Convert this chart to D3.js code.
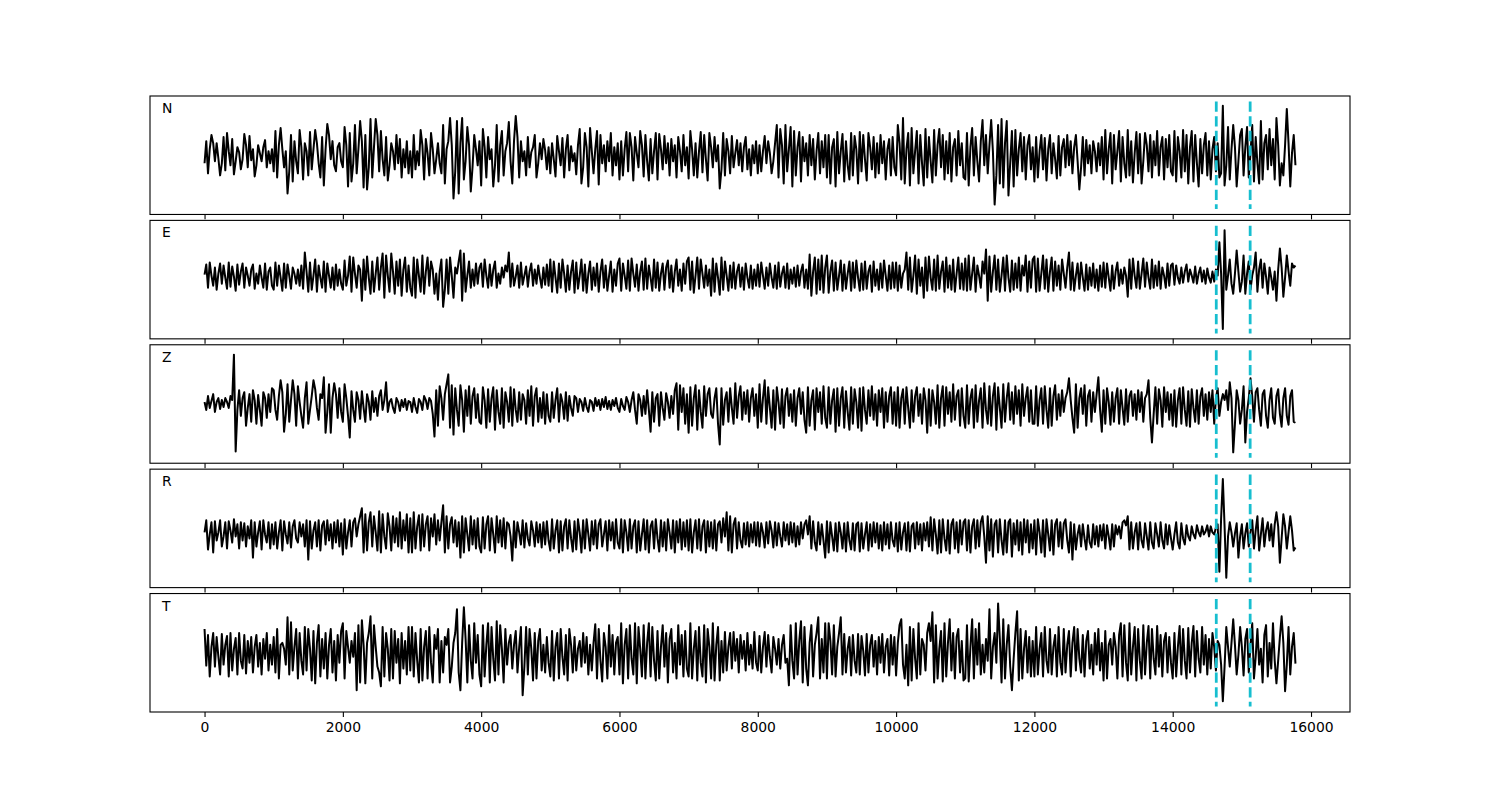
<!DOCTYPE html>
<html><head><meta charset="utf-8">
<script src="https://cdn.jsdelivr.net/npm/d3@7/dist/d3.min.js"></script>
<style>body{margin:0;background:#fff}svg{display:block}</style>
</head><body>
<svg id="chart" width="1500" height="800"></svg>
<script>
// ---- data ----
const channels = ["N", "E", "Z", "R", "T"];
const sampleStep = 25;               // samples between stored values
const pickTimes = [14630, 15120];    // dashed markers
const xTicks = [0, 2000, 4000, 6000, 8000, 10000, 12000, 14000, 16000];

const traceN = [
-8,14,-18,6,20,12,-6,12,-3,-20,-8,18,-15,22,4,-10,16,-19,-6,8,3,-14,-4,21,10,-12,19,-5,6,-21,-10,10,2,-6,8,15,-12,4,-8,6,
-16,24,-22,10,27,6,-12,4,-38,-16,20,-26,14,-6,-18,25,8,-24,12,4,-20,23,-14,6,25,12,-8,-22,18,-30,6,31,20,-4,14,-10,-16,8,12,-6,
-12,28,10,-31,22,-26,-8,30,-18,6,34,14,-32,20,-34,-12,36,-22,8,36,20,-16,24,-4,-20,18,-25,-10,12,4,-14,20,-8,16,-22,6,-12,14,-18,4,
-22,20,-14,4,-10,25,10,-24,16,2,-20,22,6,-18,-4,12,-8,-18,30,-28,6,14,37,10,-43,-16,34,-38,12,37,-24,-6,28,10,-36,-12,20,6,-10,14,
-30,26,8,-22,18,-4,6,-31,-10,30,-26,10,24,-20,4,12,33,-6,-28,14,39,18,-22,14,-6,4,-20,18,-12,3,8,20,-22,-8,12,-4,16,5,-14,8,
-18,12,-4,-21,19,4,-10,17,-22,6,20,-15,9,-6,2,-19,10,26,-28,-12,22,8,-31,27,4,-18,6,24,-29,20,-8,10,-16,14,-6,22,-20,8,-10,12,
-24,14,-20,6,23,-16,22,8,-25,18,2,-12,24,10,-21,20,-6,-25,16,-18,4,22,-24,21,6,-14,19,-8,12,-20,16,-6,10,-22,18,4,-16,20,-10,8,
-23,24,6,-20,12,-22,4,23,-17,20,-4,-25,22,8,-12,18,-6,10,-33,-14,22,-20,16,4,-18,19,-12,2,15,-10,12,-16,8,18,-14,6,-20,10,-8,14,
-18,10,-16,4,19,-8,14,2,-18,-6,12,30,-22,26,10,-28,30,-16,6,28,-31,24,-20,8,23,-26,18,-6,12,-20,20,-10,16,-24,4,22,-18,14,-12,20,
-22,20,-28,8,16,-31,23,-18,4,21,-26,14,-10,-24,22,-20,19,6,-28,23,-16,20,-4,-25,22,8,-14,18,-22,12,-18,20,-8,14,-24,6,16,-20,18,-12,
-20,30,12,-24,37,-28,6,22,-30,27,-18,4,24,-28,20,-8,-30,26,-22,18,-6,-27,25,-20,10,26,-12,20,-24,14,-18,22,-26,8,16,-20,24,-10,12,-22,
-24,22,-30,8,27,-20,18,-6,-26,14,35,-10,20,-18,10,35,4,-49,-20,30,-28,36,-32,12,34,-40,-8,24,-31,25,-20,6,22,-16,18,-24,10,20,-14,8,
-26,18,-22,4,20,-14,17,-25,6,20,-18,12,-4,-23,19,-20,8,16,-12,20,-10,14,-18,8,20,-6,-34,-12,18,-20,15,-8,10,-18,14,4,-16,12,-10,18,
-24,25,-18,6,22,-28,20,-14,4,24,-26,18,-8,-22,25,-20,14,-27,2,23,-18,21,-28,-6,22,10,-16,20,-22,14,-10,24,-20,8,18,-24,16,-12,20,-16,
-20,24,-26,18,4,-22,25,-16,20,-28,8,24,-26,20,-8,-31,16,-18,10,22,-20,14,-24,6,18,-16,12,-22,-18,49,-30,-10,28,-24,6,30,8,-31,-6,20,
26,-20,8,28,-22,2,30,-26,18,-8,-28,34,-24,12,20,-14,26,-10,16,-24,37,10,-30,-8,-20,10,46,12,-31,2,20,-10
];
const traceE = [
5,15,-8,17,4,-6,12,-10,6,16,-4,14,2,-9,17,-7,13,3,-11,15,-5,8,16,-8,12,4,-6,10,15,-9,6,-4,14,2,-8,16,-10,8,12,-6,
-10,17,-6,14,2,-11,16,-8,15,4,-9,12,6,-4,10,-6,14,-9,27,8,-12,17,-10,4,20,-12,14,2,-8,18,-12,16,4,-8,12,-10,15,-6,10,-4,
-10,19,-6,4,23,-12,22,6,-8,14,10,-21,20,-10,23,2,-14,18,-12,6,22,-10,12,26,-18,24,4,-12,26,8,-14,18,-6,20,-16,10,22,-12,14,-8,
-16,22,-18,20,4,-12,24,-14,8,22,-6,18,10,-14,6,-20,8,20,-27,-10,20,-14,22,4,-18,12,6,18,29,-21,26,-12,4,18,-8,10,-6,16,-4,12,
16,-7,20,4,-8,15,-6,10,18,-8,6,-4,12,2,14,8,27,-7,16,-6,3,14,-8,17,-5,4,13,-7,8,16,-6,10,-4,14,2,-8,12,-5,15,-6,
20,-12,18,2,-13,16,-8,20,6,-12,14,-10,8,19,-13,17,-9,4,20,-11,15,-13,6,18,-10,12,-6,16,-12,8,20,-8,14,-11,4,18,-12,10,-6,16,
21,-11,16,4,-9,19,-11,21,6,-7,15,-11,8,18,-10,21,-9,14,2,-11,20,-8,17,-11,6,16,-10,12,19,-8,14,-12,8,20,-6,10,-11,16,-4,18,
22,-10,18,-13,4,22,-9,20,6,-8,14,-6,10,-16,21,-12,16,2,-15,22,-10,18,4,-11,14,-8,17,-9,8,15,-7,12,-10,16,2,-8,14,-9,10,-6,
15,-7,17,4,-9,12,-6,16,2,-8,14,-9,17,-7,6,13,-8,16,-9,10,-4,12,-7,14,-6,8,15,-8,10,-9,25,-16,8,22,-14,20,-10,24,-13,12,
24,-13,8,19,-11,17,-10,4,19,-11,15,-9,6,18,-11,17,-8,19,2,-11,16,-10,18,-9,8,14,-12,18,-6,10,-10,16,-8,19,4,-11,14,-9,17,-8,
17,-11,14,-8,6,10,27,-10,22,-12,4,24,-14,20,-6,12,-18,22,-11,23,2,-10,20,-11,24,-9,8,18,-12,22,-8,14,-10,20,-12,6,22,-9,16,-10,
21,-11,24,-10,6,22,-12,14,4,-8,18,6,30,-21,23,-12,8,24,-10,20,-12,4,22,-11,24,2,-12,19,-10,16,-8,22,-11,14,4,24,-12,18,-8,20,
23,-12,21,-11,6,24,-9,20,-12,8,22,-11,18,-6,14,-10,20,6,-8,12,27,-10,17,-11,4,16,-9,17,2,-11,15,-10,12,-6,16,-8,10,-11,14,-7,
17,-8,16,2,-11,14,-9,8,17,-6,10,-4,12,4,-17,20,-9,21,4,-8,18,-9,6,21,-7,17,2,-9,20,-8,14,-6,18,-9,12,4,-8,16,-6,14,
16,-5,14,2,-4,12,-3,8,15,-2,10,4,-3,13,-4,6,12,-2,9,-4,11,2,-3,8,-2,10,4,37,6,-49,49,-10,4,20,-4,-14,6,29,8,-12,
-2,24,-14,6,18,-10,4,12,27,-12,10,20,-8,16,3,-14,12,2,-10,8,-21,10,31,12,-17,2,24,8,-6,16,12,14
];
const traceZ = [
2,-6,8,-4,3,10,-8,2,6,-5,4,-3,6,2,-4,8,4,50,-48,-6,14,-12,6,12,-22,-4,10,-18,14,4,-20,9,-6,-22,12,6,-14,10,-8,16,
14,-6,-16,8,24,12,-28,-10,20,-18,4,24,10,-22,18,2,-12,-24,6,22,-20,-6,8,24,15,-4,-16,10,6,27,-29,-8,20,-29,6,21,10,-14,16,-8,
-18,20,6,-12,-34,13,-6,-18,12,4,-15,13,-4,-18,10,2,-16,13,-8,6,-12,8,14,-6,4,22,-8,2,5,-4,-9,6,2,-7,4,-3,5,-6,3,2,
-8,6,-3,-9,5,2,-6,8,4,-5,6,3,-10,-33,14,-22,18,6,-16,10,20,30,-24,19,-31,16,-6,-22,19,4,-28,14,-12,18,-20,8,16,-14,10,-18,
-20,17,4,-24,15,-18,6,17,-26,14,-8,-20,16,-24,12,2,-18,17,-22,15,-6,-18,12,-16,10,4,-20,14,-12,18,-22,8,16,-18,6,-14,12,-20,10,-12,
-18,12,-14,4,16,-18,10,2,-15,12,-17,8,-4,-12,8,6,-8,5,2,-7,6,-3,-8,4,2,-7,6,-2,4,-6,5,-3,7,-5,3,-6,4,-2,6,-4,
-8,5,-2,-6,7,2,-8,4,12,-6,-20,10,4,-12,8,-10,14,-6,-28,12,-18,6,10,-22,12,-4,-16,11,2,-14,8,-10,14,21,-26,19,-8,16,-20,10,
-29,17,-22,6,19,-26,14,-8,-24,18,-12,10,16,-10,-14,6,16,-20,-41,16,-21,4,12,-18,16,-4,-20,21,-14,8,18,-16,12,-10,14,-18,6,16,-12,10,
-24,20,-18,6,24,-20,17,-4,-24,14,-26,17,2,-20,15,-24,8,16,-12,10,-18,14,-22,6,16,-10,12,-16,-29,17,-22,4,14,-26,16,-8,12,-20,18,-14,
-24,17,-20,4,15,-28,16,-22,6,17,-24,13,-8,-26,17,-20,15,2,-24,16,-27,17,-6,-20,14,-12,18,-16,10,-22,14,-8,16,-24,12,-18,8,17,-20,12,
-22,17,-24,6,15,-20,17,-4,-24,14,-18,8,17,-12,10,-20,16,4,-29,15,-22,14,2,-20,19,-24,6,18,-22,17,-10,12,-18,20,-16,8,14,-22,16,-12,
-24,19,-20,6,15,-24,19,-18,4,16,-24,21,-6,-20,18,-22,8,21,-26,17,-4,-24,20,-18,6,21,-16,12,-20,18,-10,14,-22,20,-12,6,17,-18,14,-20,
-20,18,-22,4,16,-20,18,-6,-24,16,-22,8,19,-16,10,-12,14,-8,6,12,26,4,-14,-29,20,-24,6,16,-10,19,-22,8,14,-18,12,-8,10,27,-6,-28,
14,-20,16,2,-21,12,-18,6,16,-20,14,-4,-21,15,-18,8,13,-12,10,-16,14,-8,12,-18,6,10,24,-14,-39,-10,17,-20,15,4,-23,17,-8,12,-16,10,
-22,14,-23,4,16,-20,17,-6,-22,13,-23,15,-4,-18,14,-20,8,16,-12,10,-16,12,-8,14,-20,6,16,-12,2,10,4,14,-6,22,6,-49,-20,14,4,-20,
-6,18,-39,-8,6,26,8,-18,12,16,-6,-22,10,14,-12,-24,4,16,-14,-20,8,15,-10,-23,6,16,-12,-21,8,14,-18,-19
];
const traceR = [
-4,8,-21,-6,6,-24,7,-12,-4,8,-18,-8,6,-20,7,-2,-14,9,-8,4,-20,6,-12,5,-18,2,-10,8,-29,6,-18,-4,7,-21,8,-6,-14,6,-20,4,
-16,6,-20,-4,8,-22,7,-6,-15,6,-19,2,8,-10,-14,6,-8,4,-18,8,-31,7,-20,-2,6,-18,8,-22,3,7,-16,8,-12,4,-20,6,-14,8,-18,5,
-26,9,-20,-4,8,-18,6,10,-8,4,12,20,-24,14,-22,6,16,-18,12,-4,-22,17,-24,14,-8,-20,15,2,-22,12,-14,10,-18,16,-20,8,-12,14,-24,10,
-24,16,-20,2,13,-22,14,-18,4,12,-22,10,-8,14,-16,8,-12,6,23,-24,12,-20,4,11,-14,8,-18,6,-29,12,-24,10,-6,-22,12,-16,8,-20,10,-18,
-24,11,-20,4,12,-22,10,-6,-24,12,-14,8,-18,10,-20,6,4,-8,-32,7,-19,6,-4,-16,8,-19,5,-10,-17,7,-2,-18,6,-14,4,-19,6,-16,7,-12,
-22,9,-20,-2,8,-24,7,-22,2,9,-20,8,-10,-23,7,-21,9,-4,-24,8,-20,9,-6,-22,7,-16,8,-20,4,9,-18,-6,7,-22,8,-12,6,-20,9,-14,
-20,9,-24,8,-4,-22,9,-20,2,8,-24,7,-22,-6,9,-21,8,-24,2,7,-20,9,-10,-23,8,-18,6,-22,9,-4,-20,8,-24,7,-14,9,-21,6,-18,8,
-22,9,-24,-4,8,-20,9,-22,2,8,-24,7,-18,6,-20,8,-22,4,7,-14,10,-8,16,-22,12,-24,4,10,-20,6,-12,-19,5,-16,6,-18,4,-14,6,-17,
6,-18,5,-4,-19,6,-15,7,-2,-19,6,-17,5,-8,-18,6,-12,4,-16,6,-14,5,-18,2,-16,6,-10,4,8,-6,12,-20,7,-14,-22,6,-16,4,-12,-29,
7,-24,6,-8,-22,5,-23,6,-4,-20,5,-23,6,-12,-21,5,-22,4,6,-23,5,-20,-6,6,-22,4,-18,6,-14,5,-20,3,-22,6,-16,4,-20,6,-12,-18,
5,-23,6,-21,-4,5,-22,6,-23,2,5,-20,6,-16,4,-22,5,-12,6,-18,11,-22,9,-6,-25,8,-24,9,-10,-22,8,-25,4,9,-20,6,-24,8,-16,6,
9,-22,8,-24,2,9,-20,8,-18,6,12,-8,-34,12,-22,9,-28,4,8,-24,9,-12,-26,8,-24,6,9,-28,5,-16,8,-22,6,-26,9,-14,8,-24,4,-20,
8,-26,9,-4,-24,8,-28,9,-6,-22,8,-26,4,9,-18,6,-20,5,9,-12,-24,6,-31,4,-21,-6,3,-18,4,-10,-21,3,-14,-19,4,-16,2,-18,3,-12,
4,-20,3,-8,-21,4,-18,3,-6,2,-10,6,8,3,12,-21,6,-20,-4,5,-21,6,-12,-19,5,-8,-21,6,-14,-20,5,-6,-18,6,-12,-20,4,-16,3,-10,
-21,-6,6,-14,-20,5,-10,-16,3,-8,-12,2,-6,-10,3,-4,-8,2,-6,-3,3,-8,2,-4,-6,1,4,-43,10,49,2,-49,-8,6,-4,-18,-5,5,-29,-8,
4,-20,-5,5,-18,-4,8,-20,-2,12,-22,-6,10,-18,-2,6,-12,4,-18,4,16,2,-34,-10,14,2,-20,-4,12,-2,-22,-19
];
const traceT = [
24,-13,18,-24,6,20,-14,16,-4,-22,19,-12,8,17,-24,20,-18,4,15,-22,20,-8,-16,18,-21,12,-10,16,-20,6,18,-14,10,-22,14,-6,20,-18,8,-12,
16,-20,24,-26,8,10,4,-12,36,-22,31,-18,6,24,-26,20,-8,-22,26,-18,24,4,-28,22,-31,10,28,-24,14,-16,20,-26,8,24,-20,12,-28,18,-10,22,
30,-26,22,6,-10,12,-4,20,-38,28,-30,33,8,-31,10,20,37,-26,28,6,-14,-20,-34,26,-24,20,4,-28,24,-26,22,-10,14,-31,20,-16,12,-22,26,-18,
26,-24,20,-8,-30,24,-28,6,22,-26,26,-10,-30,18,4,24,-30,12,-20,16,8,24,-30,-14,10,20,44,-20,-38,10,46,14,-30,28,-8,-26,30,-10,18,-22,
-34,28,-24,8,30,-30,26,-6,-28,32,-22,28,4,-30,24,-12,10,18,-16,8,22,-20,6,26,-43,-14,26,-22,24,4,-28,20,-26,12,24,-18,8,-20,16,-10,
-24,22,-28,6,20,-26,24,-4,-22,18,-28,24,8,-20,16,-18,4,12,-14,20,-10,16,-22,8,-18,10,29,-26,24,-8,-29,20,6,-26,28,-14,18,-22,10,16,
-22,30,-31,8,24,-26,28,-6,-22,30,-31,26,4,-24,28,-26,10,30,-24,26,-8,-28,22,-26,6,28,-14,20,-30,14,24,-20,10,-26,28,-12,18,-24,22,-16,
-24,30,-26,4,22,-28,26,-10,-24,28,-30,24,6,-26,30,-28,8,26,-28,12,-20,21,-18,6,20,-16,21,-8,14,-20,18,-6,12,-18,20,-12,8,-16,21,-10,
-18,17,-20,6,21,-14,18,-4,-20,16,4,-12,14,-16,8,18,-10,-6,-33,28,-8,-26,30,-22,12,32,-30,26,-16,-33,10,28,-24,8,20,36,-26,14,-20,30,
-26,30,12,-22,28,-24,6,20,36,-22,19,-20,4,16,-23,18,-8,-20,19,-22,17,2,-23,19,-20,8,18,-14,12,-22,16,-10,19,-20,6,14,-23,18,-12,16,
-23,10,28,34,-12,-26,8,-33,26,-28,24,-6,-26,30,-22,14,8,-18,20,30,12,41,-30,28,-26,4,22,-29,30,-24,10,34,-18,20,-26,16,24,-20,12,-28,
-26,28,-29,6,34,-26,24,-12,30,-22,8,-20,14,-8,44,-26,6,20,-10,50,14,-30,34,-26,8,28,-14,-38,-6,20,42,-28,24,-26,4,22,-20,16,-24,12,
-24,26,-22,4,20,-24,26,-8,-20,24,-22,6,18,-24,26,-10,-22,24,-20,8,22,-24,10,26,-18,24,-6,-20,18,-24,12,22,-16,8,-22,20,-12,24,-18,10,
-28,22,-26,8,14,-12,20,6,-26,18,30,-24,28,-10,-28,30,-22,6,26,-28,24,-8,-26,28,-22,10,27,-26,24,-6,-22,27,-14,18,-24,12,20,-20,16,-10,
-26,20,-24,6,27,-22,24,-8,-26,25,-20,10,27,-24,22,-6,-20,26,-12,18,-22,14,-16,20,6,-18,12,8,-12,-49,-14,26,6,-14,10,34,8,-22,-2,26,
6,-23,14,24,-20,8,30,-26,-4,24,-12,4,-30,18,28,-24,10,-16,30,-8,-31,-8,16,37,10,-39,-12,26,-22,6,20,-11
];
const traces = [traceN, traceE, traceZ, traceR, traceT];

// ---- layout ----
const svg = d3.select("#chart");
const figL = 150, figR = 1350, figT = 96, figB = 712;
const nP = channels.length, hspace = 0.05;
const ph = (figB - figT) / (nP + (nP - 1) * hspace);
const gap = ph * hspace;

const maxLen = d3.max(traces, t => t.length);
const tMax = (maxLen - 1) * sampleStep;
const pad = 0.05 * tMax;
const x = d3.scaleLinear().domain([-pad, tMax + pad]).range([figL, figR]);

const line = d3.line().x((d, i) => x(i * sampleStep));

traces.forEach((tr, k) => {
  const y0 = figT + k * (ph + gap);
  const m = d3.max(tr, v => Math.abs(v));
  const y = d3.scaleLinear().domain([-1.2 * m, 1.2 * m]).range([y0 + ph, y0]);
  const g = svg.append("g");
  const cid = "clip" + k;
  svg.append("clipPath").attr("id", cid).append("rect")
    .attr("x", figL).attr("y", y0).attr("width", figR - figL).attr("height", ph);

  g.append("path").datum(tr)
    .attr("clip-path", `url(#${cid})`)
    .attr("d", line.y(d => y(d)))
    .attr("fill", "none").attr("stroke", "#000").attr("stroke-width", 2)
    .attr("stroke-linejoin", "round");

  pickTimes.forEach(t => {
    g.append("line")
      .attr("x1", x(t)).attr("x2", x(t))
      .attr("y1", y(1.09 * m)).attr("y2", y(-1.09 * m))
      .attr("stroke", "#17becf").attr("stroke-width", 2.78)
      .attr("stroke-dasharray", "10.3,4.4");
  });

  g.append("rect").attr("x", figL).attr("y", y0)
    .attr("width", figR - figL).attr("height", ph)
    .attr("fill", "none").attr("stroke", "#000").attr("stroke-width", 1.1);

  const isLast = k === nP - 1;
  const ax = g.append("g").attr("transform", `translate(0,${y0 + ph})`)
    .call(d3.axisBottom(x).tickValues(xTicks).tickSize(4.9).tickPadding(4.9)
      .tickFormat(isLast ? d3.format("d") : () => ""));
  ax.select(".domain").remove();
  ax.selectAll(".tick line").attr("stroke", "#000").attr("stroke-width", 1.1);
  ax.selectAll(".tick text").attr("font-family", "DejaVu Sans").attr("font-size", "13.9px").attr("fill", "#000");

  g.append("text").attr("x", figL + 12).attr("y", y0 + 17)
    .attr("font-family", "DejaVu Sans").attr("font-size", "13.9px")
    .text(channels[k]);
});
</script>
</body></html>
